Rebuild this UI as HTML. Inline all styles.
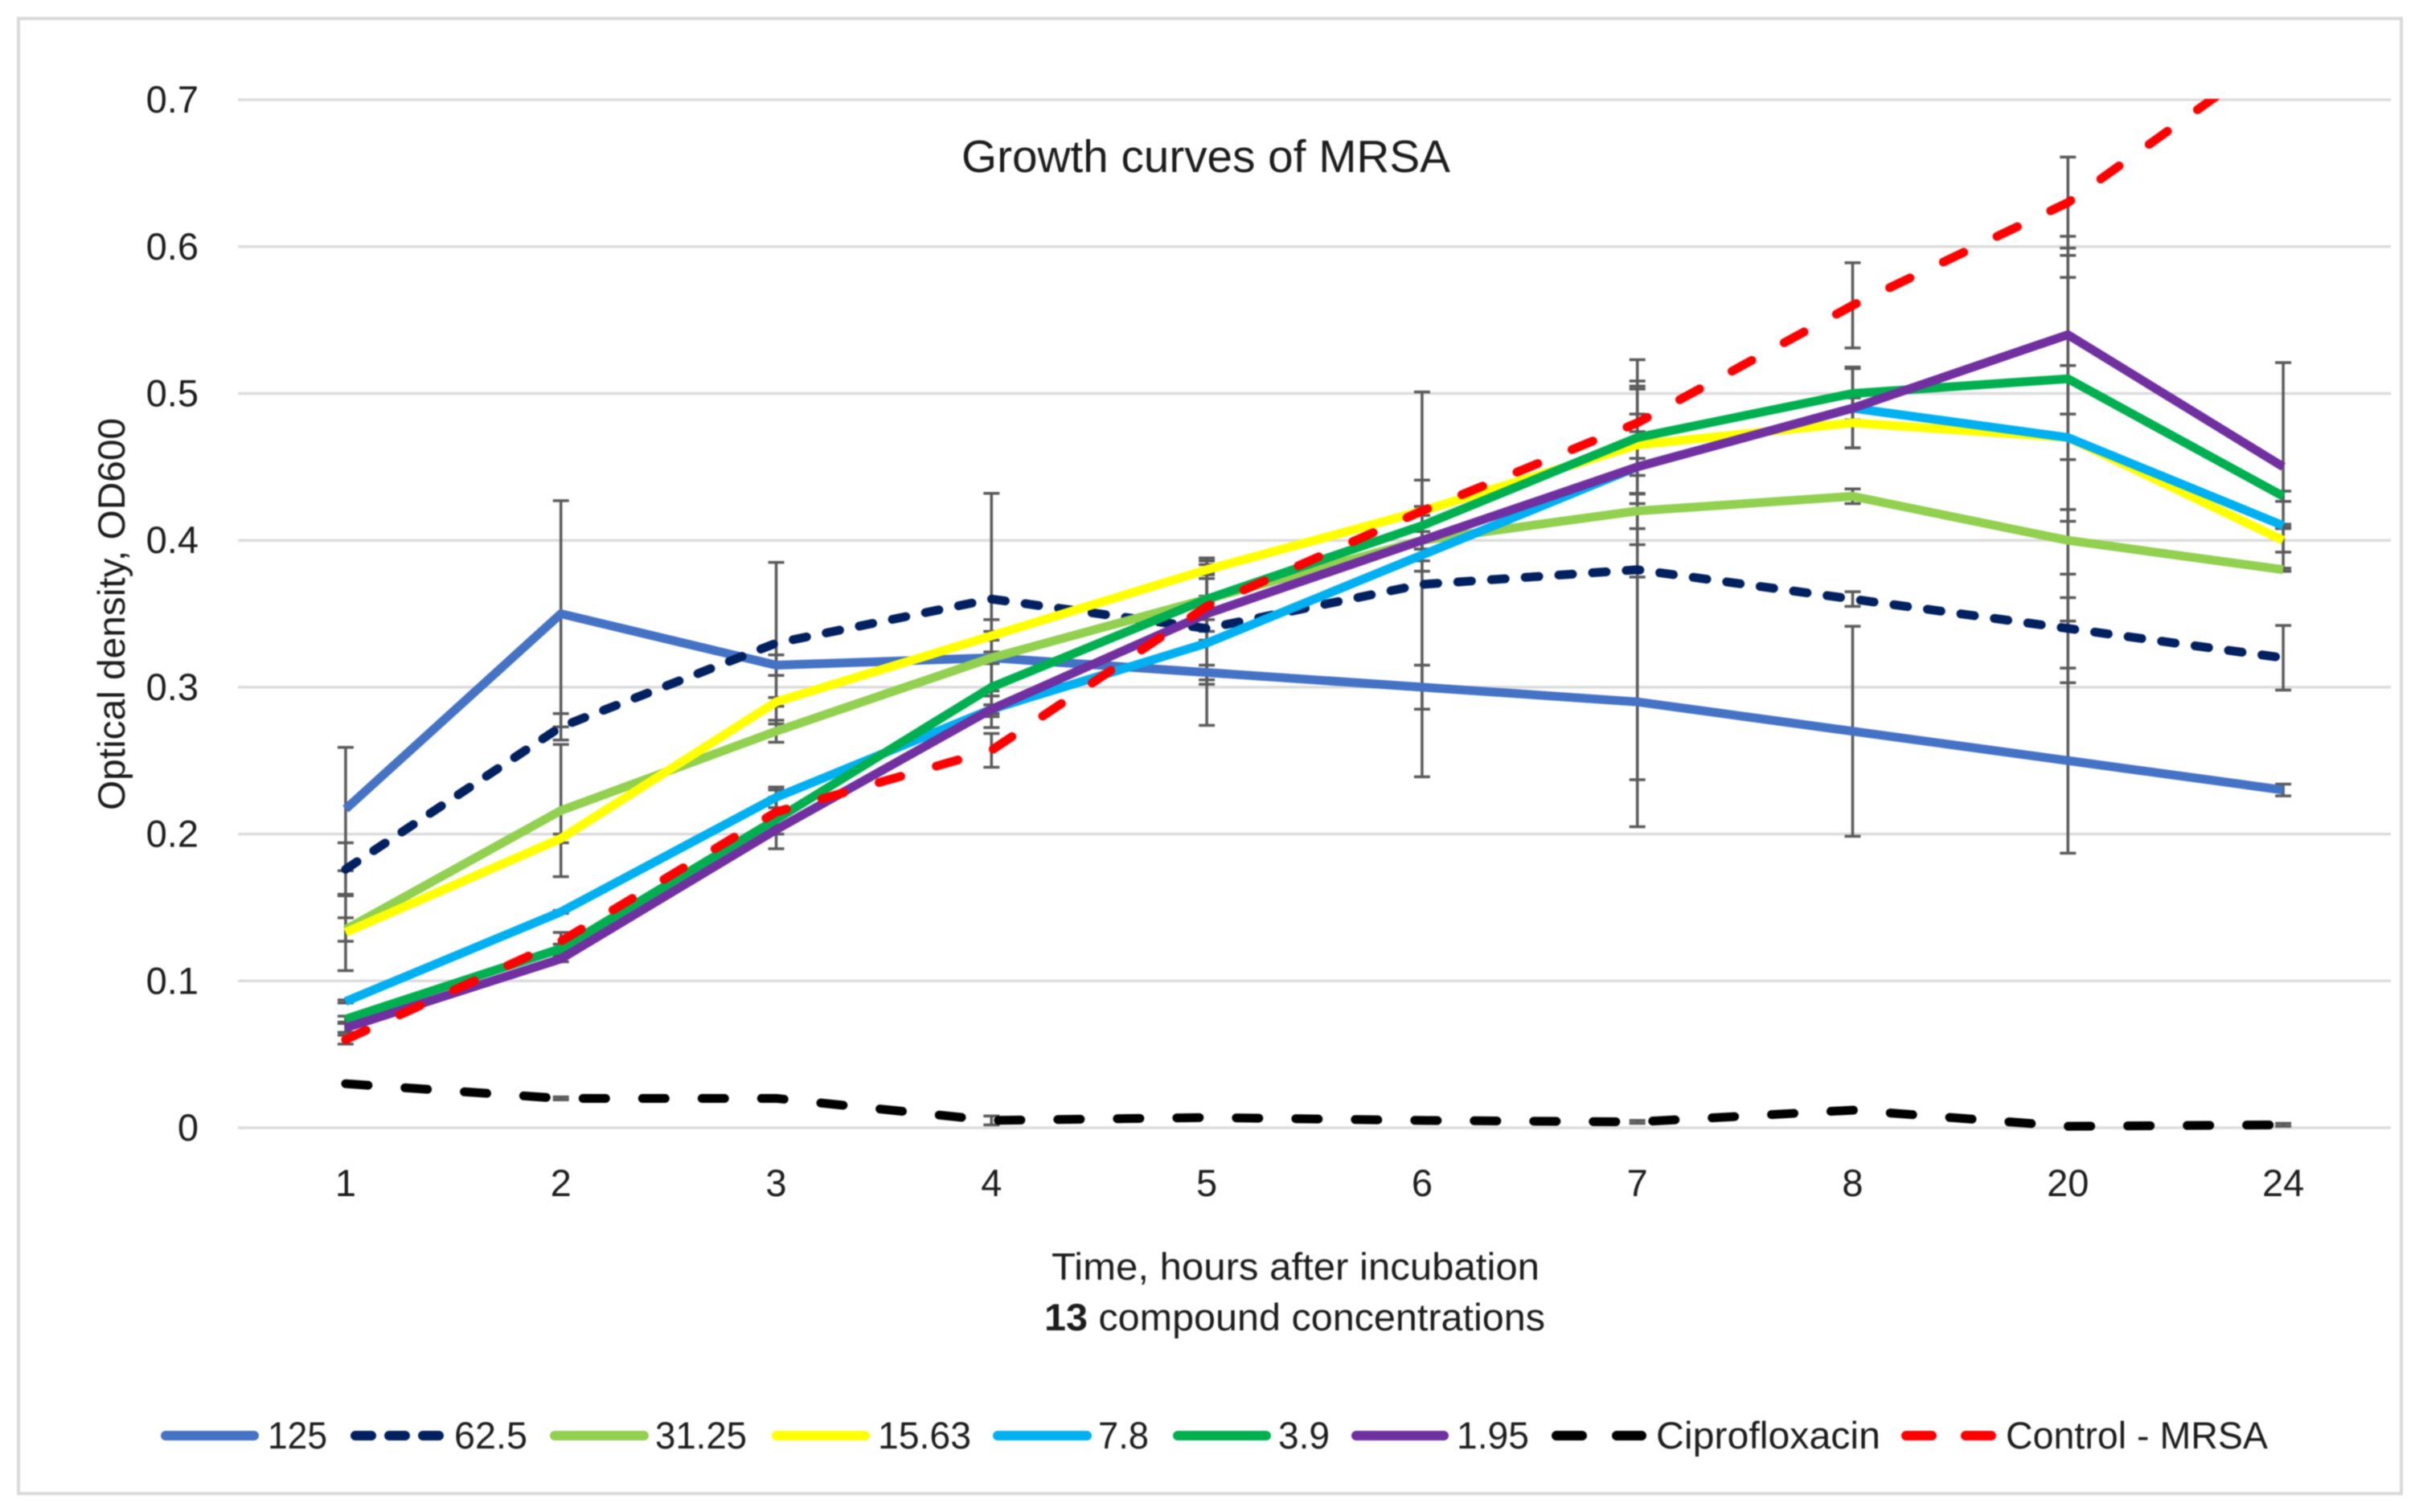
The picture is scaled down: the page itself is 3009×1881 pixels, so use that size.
<!DOCTYPE html>
<html lang="en">
<head>
<meta charset="utf-8">
<title>Growth curves of MRSA</title>
<style>
  html, body { margin: 0; padding: 0; background: #fff; width: 3009px; height: 1881px; overflow: hidden; }
  svg { display: block; filter: blur(0.8px); }
  text { font-family: "Liberation Sans", sans-serif; fill: #1c1c1c; }
</style>
</head>
<body>
<svg id="chart" xmlns="http://www.w3.org/2000/svg" width="3009" height="1881" viewBox="0 0 3009 1881">
  <defs>
    <clipPath id="plot-clip"><rect x="0" y="123" width="3009" height="1400"></rect></clipPath>
  </defs>
  <rect x="0" y="0" width="3009" height="1881" fill="#ffffff"></rect>
  <rect x="23" y="23" width="2964" height="1835" fill="none" stroke="#d9d9d9" stroke-width="4"></rect>
  <g id="grid-layer"></g>
  <g id="error-layer"></g>
  <g id="series-layer"></g>
  <g id="ytick-layer"></g>
  <g id="xtick-layer"></g>

  <text x="1196" y="214" font-size="57" textLength="608" lengthAdjust="spacingAndGlyphs">Growth curves of MRSA</text>
  <text transform="translate(155 1008) rotate(-90)" x="0" y="0" font-size="47" textLength="488" lengthAdjust="spacingAndGlyphs">Optical density, OD600</text>
  <text x="1308" y="1592" font-size="47" textLength="607" lengthAdjust="spacingAndGlyphs">Time, hours after incubation</text>
  <text x="1299" y="1655" font-size="47" textLength="623" lengthAdjust="spacingAndGlyphs"><tspan font-weight="bold">13</tspan> compound concentrations</text>

  <g stroke-width="12" stroke-linecap="round" fill="none">
    <g>
      <line x1="206" y1="1786" x2="316" y2="1786" stroke="#4472C4"></line>
      <text x="333" y="1802" font-size="47" stroke="none" textLength="74" lengthAdjust="spacingAndGlyphs">125</text>
    </g>
    <g>
      <line x1="442" y1="1786" x2="547" y2="1786" stroke="#002060" stroke-dasharray="20 22"></line>
      <text x="565" y="1802" font-size="47" stroke="none" textLength="91" lengthAdjust="spacingAndGlyphs">62.5</text>
    </g>
    <g>
      <line x1="690" y1="1786" x2="801" y2="1786" stroke="#92D050"></line>
      <text x="815" y="1802" font-size="47" stroke="none" textLength="114" lengthAdjust="spacingAndGlyphs">31.25</text>
    </g>
    <g>
      <line x1="966" y1="1786" x2="1076" y2="1786" stroke="#FFFF00"></line>
      <text x="1092" y="1802" font-size="47" stroke="none" textLength="116" lengthAdjust="spacingAndGlyphs">15.63</text>
    </g>
    <g>
      <line x1="1241" y1="1786" x2="1352" y2="1786" stroke="#00B0F0"></line>
      <text x="1366" y="1802" font-size="47" stroke="none" textLength="63" lengthAdjust="spacingAndGlyphs">7.8</text>
    </g>
    <g>
      <line x1="1465" y1="1786" x2="1575" y2="1786" stroke="#00B050"></line>
      <text x="1590" y="1802" font-size="47" stroke="none" textLength="64" lengthAdjust="spacingAndGlyphs">3.9</text>
    </g>
    <g>
      <line x1="1687" y1="1786" x2="1796" y2="1786" stroke="#7030A0"></line>
      <text x="1812" y="1802" font-size="47" stroke="none" textLength="90" lengthAdjust="spacingAndGlyphs">1.95</text>
    </g>
    <g>
      <line x1="1936" y1="1786" x2="2042" y2="1786" stroke="#000000" stroke-dasharray="32 43"></line>
      <text x="2060" y="1802" font-size="47" stroke="none" textLength="279" lengthAdjust="spacingAndGlyphs">Ciprofloxacin</text>
    </g>
    <g>
      <line x1="2371" y1="1786" x2="2477" y2="1786" stroke="#FF0000" stroke-dasharray="32 42"></line>
      <text x="2495" y="1802" font-size="47" stroke="none" textLength="326" lengthAdjust="spacingAndGlyphs">Control - MRSA</text>
    </g>
  </g>
</svg>
<script>
// Chart data
const categories = ["1", "2", "3", "4", "5", "6", "7", "8", "20", "24"];
const yTickValues = [0, 0.1, 0.2, 0.3, 0.4, 0.5, 0.6, 0.7];
const yTickLabels = ["0", "0.1", "0.2", "0.3", "0.4", "0.5", "0.6", "0.7"];

const values125 = [0.217, 0.35, 0.315, 0.32, 0.31, 0.30, 0.29, 0.27, 0.25, 0.23];
const values62_5 = [0.176, 0.273, 0.33, 0.36, 0.34, 0.37, 0.38, 0.36, 0.34, 0.32];
const values31_25 = [0.135, 0.216, 0.27, 0.32, 0.36, 0.40, 0.42, 0.43, 0.40, 0.38];
const values15_63 = [0.133, 0.197, 0.29, 0.335, 0.38, 0.42, 0.465, 0.48, 0.47, 0.40];
const values7_8 = [0.086, 0.147, 0.225, 0.285, 0.33, 0.39, 0.45, 0.49, 0.47, 0.41];
const values3_9 = [0.074, 0.122, 0.21, 0.30, 0.36, 0.41, 0.47, 0.50, 0.51, 0.43];
const values1_95 = [0.068, 0.115, 0.203, 0.285, 0.35, 0.40, 0.45, 0.49, 0.54, 0.45];
const valuesCipro = [0.03, 0.02, 0.02, 0.005, 0.007, 0.005, 0.004, 0.012, 0.001, 0.002];
const valuesControl = [0.06, 0.127, 0.215, 0.257, 0.355, 0.42, 0.48, 0.56, 0.63, 0.735];

const errors125 = [0.042, 0.077, 0.007, 0.004, 0.005, 0.015, 0.085, 0.0715, 0.063, 0.004];
const errors62_5 = [0.018, 0.009, 0.055, 0.072, 0.038, 0.131, 0.143, 0.005, 0.037, 0.022];
const errors31_25 = [0.008, 0.045, 0.0075, 0.026, 0.014, 0.006, 0.012, 0.005, 0.055, 0.001];
const errors15_63 = [0.026, 0.003, 0.003, 0.003, 0.0035, 0.003, 0.04, 0.017, 0.109, 0.008];
const errors7_8 = [0.001, 0.001, 0.007, 0.0125, 0.056, 0.004, 0.0058, 0.027, 0.049, 0.001];
const errors3_9 = [0.002, 0.003, 0.02, 0.02, 0.028, 0.031, 0.0385, 0.018, 0.097, 0.0035];
const errors1_95 = [0.003, 0.002, 0.003, 0.003, 0.012, 0.006, 0.053, 0.01, 0.054, 0.071];
const errorsCipro = [0, 0.001, 0, 0.003, 0, 0, 0.001, 0, 0, 0.001];
const errorsControl = [0.003, 0.006, 0.01, 0.0115, 0.003, 0.003, 0.006, 0.029, 0.031, 0.0];

const seriesNames = ["125", "62-5", "31-25", "15-63", "7-8", "3-9", "1-95", "ciprofloxacin", "control-mrsa"];
const seriesValues = [values125, values62_5, values31_25, values15_63, values7_8, values3_9, values1_95, valuesCipro, valuesControl];
const seriesErrors = [errors125, errors62_5, errors31_25, errors15_63, errors7_8, errors3_9, errors1_95, errorsCipro, errorsControl];
const seriesColors = ["#4472C4", "#002060", "#92D050", "#FFFF00", "#00B0F0", "#00B050", "#7030A0", "#000000", "#FF0000"];
const seriesDashes = ["", "17 25", "", "", "", "", "", "28 46", "28 46"];
const seriesCaps = ["butt", "round", "butt", "butt", "butt", "butt", "butt", "round", "round"];

// Axis geometry
const plotLeft = 296;
const plotRight = 2974;
const yZero = 1403;
const yPerUnit = 1827;
const SVG_NS = "http://www.w3.org/2000/svg";

function xScale(index) {
  const step = (plotRight - plotLeft) / categories.length;
  return plotLeft + step * (index + 0.5);
}
function yScale(value) {
  return yZero - value * yPerUnit;
}
function make(tag, attrs, parent) {
  const el = document.createElementNS(SVG_NS, tag);
  Object.keys(attrs).forEach(function (key) { el.setAttribute(key, attrs[key]); });
  parent.appendChild(el);
  return el;
}

const gridLayer = document.getElementById("grid-layer");
const errorLayer = document.getElementById("error-layer");
const seriesLayer = document.getElementById("series-layer");
const yTickLayer = document.getElementById("ytick-layer");
const xTickLayer = document.getElementById("xtick-layer");

yTickValues.forEach(function (tick, i) {
  const grid = make("line", { x1: plotLeft, x2: plotRight, y1: yScale(tick), y2: yScale(tick), stroke: "#dcdcdc", "stroke-width": 3.5 }, gridLayer);
  
  
  const label = make("text", { x: 247, y: yScale(tick) + 16, "font-size": 47, "text-anchor": "end" }, yTickLayer);
  label.textContent = yTickLabels[i];
  
  
});

categories.forEach(function (cat, i) {
  const label = make("text", { x: xScale(i), y: 1488, "font-size": 47, "text-anchor": "middle" }, xTickLayer);
  label.textContent = cat;
  
  
});

seriesValues.forEach(function (values, s) {
  const group = make("g", { stroke: "#595959", "stroke-width": 3.5 }, errorLayer);
  
  
  values.forEach(function (value, i) {
    const err = seriesErrors[s][i];
    if (err <= 0) { return; }
    const x = xScale(i);
    const top = yScale(value + err);
    const bottom = yScale(value - err);
    const stem = make("line", { x1: x, x2: x, y1: top, y2: bottom }, group);
    
    
    const capTop = make("line", { x1: x - 10, x2: x + 10, y1: top, y2: top }, group);
    
    
    const capBottom = make("line", { x1: x - 10, x2: x + 10, y1: bottom, y2: bottom }, group);
    
    
  });
});

seriesValues.forEach(function (values, s) {
  const points = values.map(function (value, i) { return xScale(i) + "," + yScale(value); }).join(" ");
  const line = make("polyline", {
    points: points,
    fill: "none",
    stroke: seriesColors[s],
    "stroke-width": 11,
    "stroke-linejoin": "round",
    "stroke-linecap": seriesCaps[s],
    "clip-path": "url(#plot-clip)"
  }, seriesLayer);
  if (seriesDashes[s]) { line.setAttribute("stroke-dasharray", seriesDashes[s]); }
  
  
});
</script>
</body>
</html>
